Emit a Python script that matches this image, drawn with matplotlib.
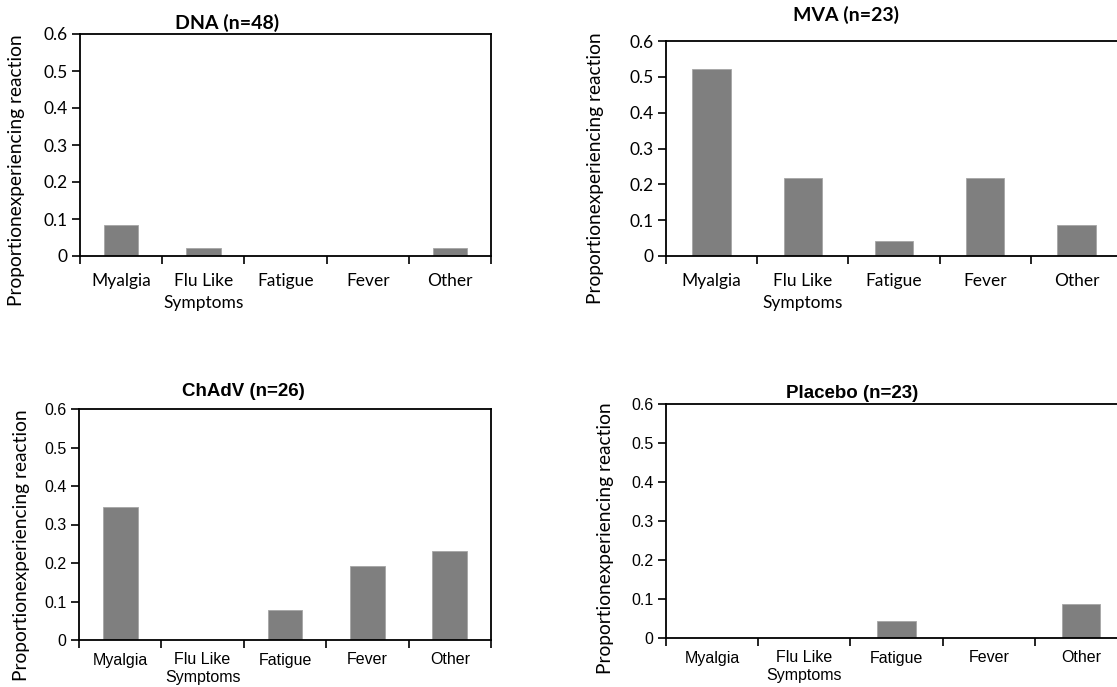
import matplotlib
matplotlib.use("Agg")
import matplotlib.pyplot as plt
import numpy as np

# data
categories = ["Myalgia", "Flu Like\nSymptoms", "Fatigue", "Fever", "Other"]
dna = [0.083, 0.021, 0.0, 0.0, 0.021]
mva = [0.522, 0.217, 0.043, 0.217, 0.087]
chadv = [0.346, 0.0, 0.077, 0.192, 0.231]
placebo = [0.0, 0.0, 0.043, 0.0, 0.087]
yticks = [0, 0.1, 0.2, 0.3, 0.4, 0.5, 0.6]
ytick_labels = ["0", "0.1", "0.2", "0.3", "0.4", "0.5", "0.6"]

W, H = 1117, 687
BAR_COLOR = "#7f7f7f"
YLABEL = "Proportionexperiencing reaction"

fig = plt.figure(figsize=(W / 100, H / 100), dpi=100)


def px_axes(left, top, right, bottom):
    return fig.add_axes([left / W, 1 - bottom / H, (right - left) / W, (bottom - top) / H])


def draw_panel(ax, values, title, title_xy, ylabel_xy, font, label_pad, tsize, title_size, spacing):
    x = np.arange(len(categories))
    ax.bar(x, values, width=0.42, color=BAR_COLOR, edgecolor="#a6a6a6", linewidth=0.6)
    ax.set_xlim(-0.5, len(categories) - 0.5)
    ax.set_ylim(0, 0.6)
    ax.set_yticks(yticks)
    ax.set_yticklabels(ytick_labels, family=font, fontsize=tsize)
    # x ticks sit on category borders, labels in the middle
    ax.set_xticks(np.arange(len(categories) + 1) - 0.5)
    ax.set_xticklabels([])
    ax.set_xticks(x, minor=True)
    ax.set_xticklabels(categories, minor=True, family=font, fontsize=tsize,
                       linespacing=spacing)
    ax.tick_params(axis="x", which="minor", length=0, pad=label_pad)
    ax.tick_params(axis="x", which="major", length=6, width=1.2, direction="out")
    ax.tick_params(axis="y", length=6, width=1.2, direction="out", pad=3)
    for s in ax.spines.values():
        s.set_linewidth(1.3)
    fig.text(title_xy[0] / W, 1 - title_xy[1] / H, title, ha="center", va="center",
             family=font, fontsize=title_size, fontweight="bold")
    fig.text(ylabel_xy[0] / W, 1 - ylabel_xy[1] / H, YLABEL, ha="center", va="center",
             rotation=90, family="Lato", fontsize=13.8)


ax1 = px_axes(80, 34, 491, 256)
draw_panel(ax1, dna, "DNA (n=48)", (227, 23), (17, 170), "Lato", 12, 12.5, 14, 1.45)

ax2 = px_axes(666, 41, 1122, 256)
draw_panel(ax2, mva, "MVA (n=23)", (846, 15), (595, 168), "Lato", 12, 12.5, 14, 1.45)

ax3 = px_axes(79, 409, 491, 640)
draw_panel(ax3, chadv, "ChAdV (n=26)", (243, 392), (22, 545), "Liberation Sans", 9, 11.5, 13.5, 1.22)

ax4 = px_axes(666, 404, 1127, 638)
draw_panel(ax4, placebo, "Placebo (n=23)", (852, 393), (605, 538), "Liberation Sans", 9, 11.5, 13.5, 1.22)

fig.savefig("out.png", dpi=100)
